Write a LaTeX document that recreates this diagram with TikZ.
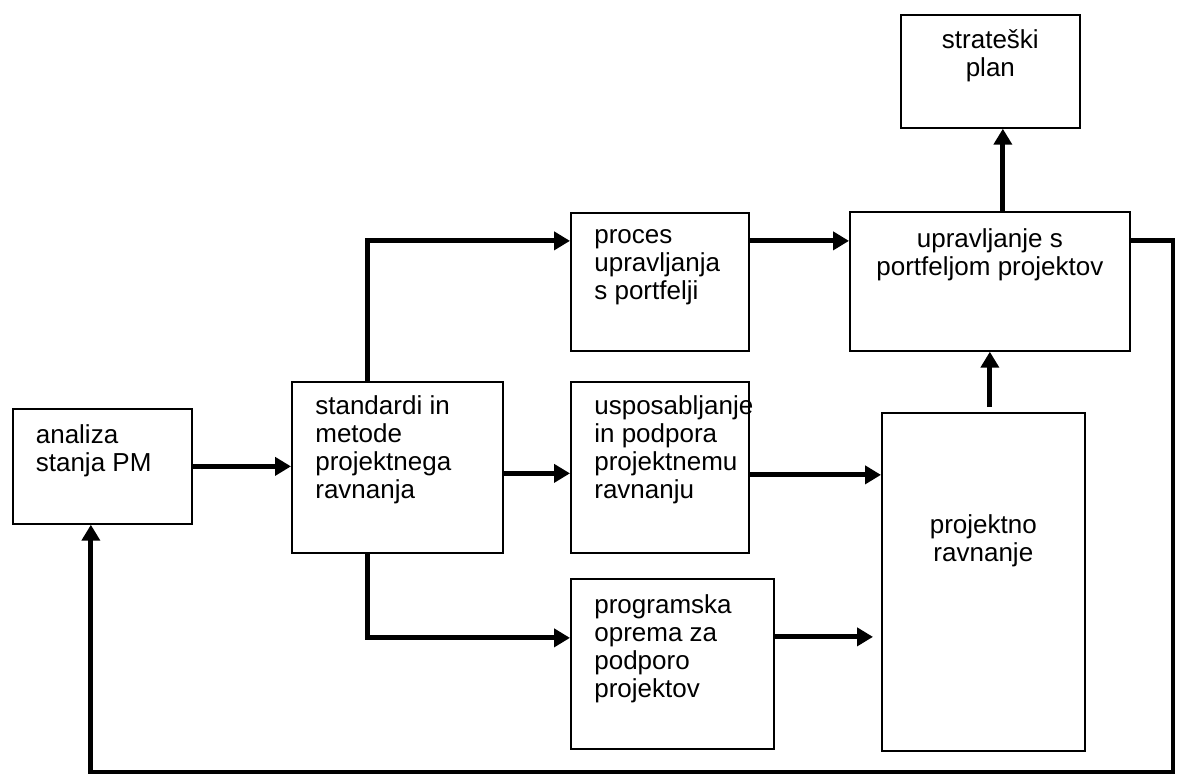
\documentclass[tikz,border=0pt]{standalone}
\usepackage{fontspec}
\setmainfont{Liberation Sans}
\usetikzlibrary{positioning}
\usetikzlibrary{calc,arrows.meta}

\begin{document}
\begin{tikzpicture}[
x=0.02cm, y=-0.02cm,
blocknode/.style={rectangle, draw=black, line width=1pt, anchor=north west, inner sep=0pt},
textnode/.style={inner sep=0pt, font=\fontsize{14.8}{15.9}\selectfont},
arrowline/.style={line width=2.8pt, -{Triangle[length=0.32cm, width=0.36cm]}},
]
\useasboundingbox (0,0) rectangle (1177,775);

%Nodes
\node[blocknode, minimum width=3.58cm, minimum height=2.30cm] (analiza)       at (12,408)  {};
\node[blocknode, minimum width=4.22cm, minimum height=3.42cm] (standardi)     at (291,381) {};
\node[blocknode, minimum width=3.56cm, minimum height=2.76cm] (proces)        at (570,212) {};
\node[blocknode, minimum width=3.56cm, minimum height=3.42cm] (usposabljanje) at (570,381) {};
\node[blocknode, minimum width=4.06cm, minimum height=3.40cm] (programska)    at (570,578) {};
\node[blocknode, minimum width=3.58cm, minimum height=2.26cm] (strateski)     at (900,14)  {};
\node[blocknode, minimum width=5.60cm, minimum height=2.78cm] (upravljanje)   at (849,211) {};
\node[blocknode, minimum width=4.06cm, minimum height=6.76cm] (projektno)     at (881,412) {};

%Text
\node[textnode, anchor=north west, align=left] (analiza-t)       at ([xshift=0.47cm, yshift=-0.31cm]analiza.north west)       {\strut analiza\\stanja PM};
\node[textnode, anchor=north west, align=left] (standardi-t)     at ([xshift=0.48cm, yshift=-0.27cm]standardi.north west)     {\strut standardi in\\metode\\projektnega\\ravnanja};
\node[textnode, anchor=north west, align=left] (proces-t)        at ([xshift=0.48cm, yshift=-0.23cm]proces.north west)        {\strut proces\\upravljanja\\s portfelji};
\node[textnode, anchor=north west, align=left] (usposabljanje-t) at ([xshift=0.48cm, yshift=-0.27cm]usposabljanje.north west) {\strut usposabljanje\\in podpora\\projektnemu\\ravnanju};
\node[textnode, anchor=north west, align=left] (programska-t)    at ([xshift=0.48cm, yshift=-0.31cm]programska.north west)    {\strut programska\\oprema za\\podporo\\projektov};
\node[textnode, anchor=north, align=center]    (strateski-t)     at ([yshift=-0.29cm]strateski.north)                         {\strut strateški\\plan};
\node[textnode, anchor=north, align=center]    (upravljanje-t)   at ([yshift=-0.33cm]upravljanje.north)                       {\strut upravljanje s\\portfeljom projektov};
\node[textnode, anchor=north, align=center]    (projektno-t)     at ([yshift=-2.03cm]projektno.north)                         {\strut projektno\\ravnanje};

%Lines
\draw[arrowline] (analiza.east) -- (analiza.east -| standardi.west);
\draw[arrowline] ([xshift=-0.59cm]standardi.north) |- ([yshift=0.82cm]proces.west);
\draw[arrowline] ([xshift=-0.59cm]standardi.south) |- ([yshift=0.52cm]programska.west);
\draw[arrowline] ([yshift=-0.12cm]standardi.east) -- ([yshift=-0.12cm]usposabljanje.west);
\draw[arrowline] ([yshift=0.82cm]proces.east) -- ([yshift=0.82cm]proces.east -| upravljanje.west);
\draw[arrowline] ([yshift=-0.15cm]usposabljanje.east) -- ([yshift=-0.15cm]usposabljanje.east -| projektno.west);
\draw[arrowline, shorten >=0.16cm] ([yshift=0.54cm]programska.east) -- ([yshift=0.54cm]programska.east -| projektno.west);
\draw[arrowline, shorten <=0.1cm] ([xshift=0.13cm]projektno.north) -- ([xshift=0.13cm]projektno.north |- upravljanje.south);
\draw[arrowline] ([xshift=0.26cm]upravljanje.north) -- ([xshift=0.26cm]upravljanje.north |- strateski.south);

%Feedback
\coordinate (corner) at (1173,772);
\draw[arrowline] ([yshift=0.82cm]upravljanje.east) -| (corner) -| ([xshift=-0.23cm]analiza.south);
\end{tikzpicture}
\end{document}
